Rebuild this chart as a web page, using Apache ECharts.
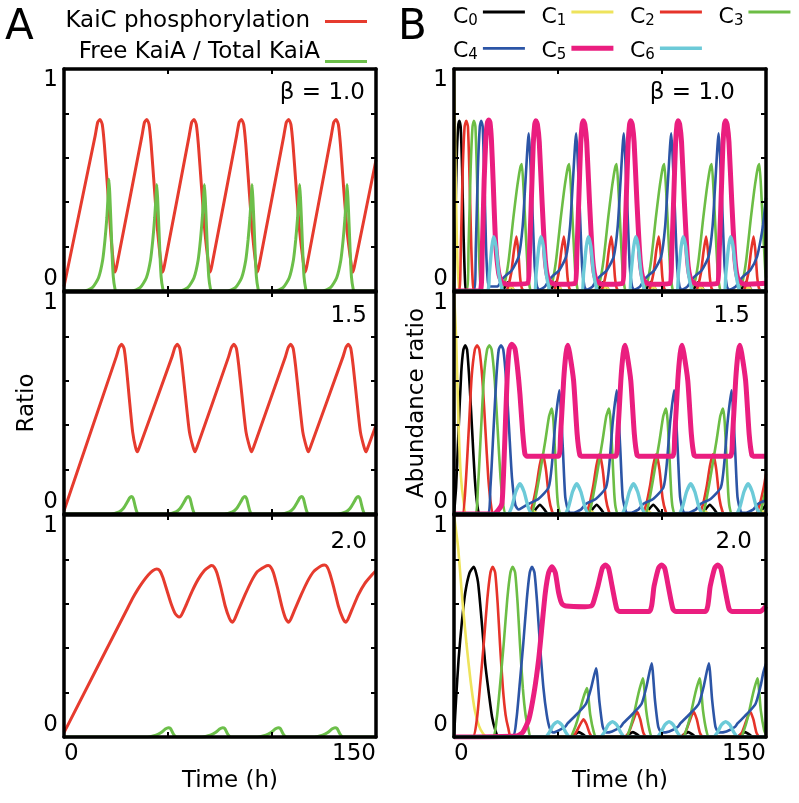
<!DOCTYPE html>
<html><head><meta charset="utf-8">
<script src="https://cdn.jsdelivr.net/npm/echarts@6/dist/echarts.min.js"></script>
<style>html,body{margin:0;padding:0;background:#fff}#c{width:799px;height:803px}</style>
</head><body><div id="c"></div>
<script>
// ---------- labels ----------
const xLabelValues = [0, 150];
const yLabelValues = [0, 1];
const xAxisName = 'Time (h)';
const yAxisNames = ['Ratio', 'Abundance ratio'];
const betaLabels = ['\u03b2 = 1.0', '1.5', '2.0'];
const panelLetters = ['A', 'B'];
const seriesNamesA = ['KaiC phosphorylation', 'Free KaiA / Total KaiA'];
const seriesNamesB = ['C0', 'C1', 'C2', 'C3', 'C4', 'C5', 'C6'];

// ---------- Panel A, beta = 1.0 ----------
const kaicB10 = [[0,0.02],[15,0.70],[16.2,0.76],[17.3,0.773],[18.4,0.75],[19.4,0.66],[20.9,0.47],[22.4,0.27],[23.8,0.12],[24.5,0.085],[25.3,0.11],
[37.5,0.70],[38.7,0.76],[39.8,0.773],[40.9,0.75],[41.9,0.66],[43.4,0.47],[45,0.27],[46.7,0.12],[47.4,0.085],[48.2,0.11],
[60.2,0.70],[61.4,0.76],[62.5,0.773],[63.6,0.75],[64.6,0.66],[66.1,0.47],[67.7,0.27],[69.5,0.12],[70.2,0.085],[71,0.11],
[83,0.70],[84.2,0.76],[85.3,0.773],[86.4,0.75],[87.4,0.66],[88.9,0.47],[90.5,0.27],[92.2,0.12],[92.9,0.085],[93.7,0.11],
[105.7,0.70],[106.9,0.76],[108,0.773],[109.1,0.75],[110.1,0.66],[111.6,0.47],[113.3,0.27],[115.2,0.12],[115.9,0.085],[116.7,0.11],
[128.5,0.70],[129.7,0.76],[130.8,0.773],[131.9,0.75],[132.9,0.66],[134.4,0.47],[136.1,0.27],[138.1,0.12],[138.8,0.085],[139.6,0.11],
[150,0.59]];
const kaiaB10 = [[0,0],[9.6,0],[13.6,0.015],[16.6,0.06],[18.6,0.14],[19.7,0.23],[20.6,0.33],[21.2,0.43],[21.6,0.503],[22,0.44],[22.6,0.3],[23.2,0.15],[23.7,0.064],[24.5,0.01],[25.1,0],
[32.6,0],[36.6,0.015],[39.6,0.06],[41.6,0.14],[42.7,0.23],[43.6,0.33],[44.2,0.42],[44.6,0.48],[45,0.42],[45.6,0.29],[46.2,0.15],[46.7,0.064],[47.5,0.01],[48.1,0],
[55.5,0],[59.5,0.015],[62.5,0.06],[64.5,0.14],[65.6,0.23],[66.5,0.33],[67.1,0.42],[67.5,0.48],[67.9,0.42],[68.5,0.29],[69.1,0.15],[69.6,0.064],[70.4,0.01],[71,0],
[78.4,0],[82.4,0.015],[85.4,0.06],[87.4,0.14],[88.5,0.23],[89.4,0.33],[90,0.42],[90.4,0.48],[90.8,0.42],[91.4,0.29],[92,0.15],[92.5,0.064],[93.3,0.01],[93.9,0],
[101.3,0],[105.3,0.015],[108.3,0.06],[110.3,0.14],[111.4,0.23],[112.3,0.33],[112.9,0.42],[113.3,0.48],[113.7,0.42],[114.3,0.29],[114.9,0.15],[115.4,0.064],[116.2,0.01],[116.8,0],
[124.1,0],[128.1,0.015],[131.1,0.06],[133.1,0.14],[134.2,0.23],[135.1,0.33],[135.7,0.42],[136.1,0.48],[136.5,0.42],[137.1,0.29],[137.7,0.15],[138.2,0.064],[139,0.01],[139.6,0],[150,0]];

// ---------- Panel A, beta = 1.5 ----------
const kaicB15 = [[0,0.015],[25.2,0.71],[26.5,0.75],[27.7,0.765],[28.9,0.745],[29.9,0.67],[31.4,0.52],[33,0.37],[34.4,0.30],[35.3,0.28],[36.2,0.30],
[52,0.71],[53.3,0.75],[54.5,0.765],[55.7,0.745],[56.8,0.67],[58.5,0.52],[60.3,0.37],[62.1,0.30],[63,0.28],[63.9,0.30],
[79.2,0.71],[80.5,0.75],[81.7,0.765],[82.9,0.745],[84,0.67],[85.7,0.52],[87.5,0.37],[89.3,0.30],[90.2,0.28],[91.1,0.30],
[106.5,0.71],[107.8,0.75],[109,0.765],[110.2,0.745],[111.3,0.67],[113,0.52],[114.8,0.37],[116.6,0.30],[117.5,0.28],[118.4,0.30],
[134.2,0.71],[135.5,0.75],[136.7,0.765],[137.9,0.745],[139,0.67],[140.7,0.52],[142.5,0.37],[144.3,0.30],[145.2,0.28],[146.1,0.30],
[150,0.40]];
const kaiaB15 = [[0,0],[22.5,0],[26.5,0.01],[28.5,0.025],[30.5,0.055],[31.5,0.072],[32.5,0.079],[33.3,0.07],[34.1,0.04],[34.9,0.012],[35.7,0],
[49.8,0],[53.8,0.01],[55.8,0.025],[57.8,0.055],[58.8,0.072],[59.8,0.079],[60.6,0.07],[61.4,0.04],[62.2,0.012],[63,0],
[77,0],[81,0.01],[83,0.025],[85,0.055],[86,0.072],[87,0.079],[87.8,0.07],[88.6,0.04],[89.4,0.012],[90.2,0],
[104.3,0],[108.3,0.01],[110.3,0.025],[112.3,0.055],[113.3,0.072],[114.3,0.079],[115.1,0.07],[115.9,0.04],[116.7,0.012],[117.5,0],
[131.5,0],[135.5,0.01],[137.5,0.025],[139.5,0.055],[140.5,0.072],[141.5,0.079],[142.3,0.07],[143.1,0.04],[143.9,0.012],[144.7,0],[150,0]];

// ---------- Panel A, beta = 2.0 ----------
const kaicB20 = [[0,0.02],[30,0.57],[33,0.625],[35.5,0.665],[38,0.70],[40.5,0.73],[42.8,0.75],[44.6,0.757],[46,0.75],[47.5,0.72],[49.5,0.66],[51.5,0.60],[53.5,0.555],[55.4,0.54],
[56.5,0.55],[58.5,0.59],[61.5,0.655],[64.5,0.71],[67.5,0.75],[69.8,0.767],[71,0.772],[72.2,0.765],[73.5,0.74],[75.5,0.67],[77.5,0.59],[79.5,0.535],[80.9,0.517],
[82,0.53],[84,0.575],[87,0.64],[90,0.70],[93,0.745],[96.5,0.767],[98.2,0.772],[99.4,0.765],[100.7,0.74],[102.7,0.67],[104.7,0.59],[106.5,0.535],[107.9,0.517],
[109,0.53],[111,0.575],[114,0.64],[117,0.70],[120,0.745],[123.5,0.77],[125.2,0.775],[126.4,0.768],[127.7,0.74],[129.8,0.67],[131.9,0.59],[134,0.535],[135.4,0.517],
[136.5,0.53],[138.5,0.575],[141.5,0.64],[144.5,0.69],[148.7,0.737],[150,0.75]];
const kaiaB20 = [[0,0],[40.2,0],[44.2,0.008],[46.7,0.02],[48.7,0.036],[50.2,0.042],[51.2,0.038],[52.2,0.02],[53.2,0.005],[54.2,0],
[66.3,0],[70.3,0.008],[72.8,0.02],[74.8,0.036],[76.3,0.042],[77.3,0.038],[78.3,0.02],[79.3,0.005],[80.3,0],
[93,0],[97,0.008],[99.5,0.02],[101.5,0.036],[103,0.042],[104,0.038],[105,0.02],[106,0.005],[107,0],
[120.3,0],[124.3,0.008],[126.8,0.02],[128.8,0.036],[130.3,0.042],[131.3,0.038],[132.3,0.02],[133.3,0.005],[134.3,0],[150,0]];

// ---------- Panel B, beta = 1.0 ----------
const c0B10 = [[0,0],[0.6,0.3],[1.3,0.6],[2,0.74],[2.6,0.767],[3.2,0.74],[3.9,0.55],[4.6,0.25],[5.4,0.03],[6.2,0],
[23,0],[24.6,0.02],[26.1,0.04],[27.6,0.02],[29.2,0],[45.9,0],[47.5,0.02],[49,0.04],[50.5,0.02],[52.1,0],
[68.7,0],[70.3,0.02],[71.8,0.04],[73.3,0.02],[74.9,0],[91.5,0],[93.1,0.02],[94.6,0.04],[96.1,0.02],[97.7,0],
[114.4,0],[116,0.02],[117.5,0.04],[119,0.02],[120.6,0],[137.3,0],[138.9,0.02],[140.4,0.04],[141.9,0.02],[143.5,0],[150,0]];
const c1B10 = [[0,1],[0.5,0.7],[1,0.4],[1.6,0.15],[2.3,0.03],[3,0],
[25.5,0],[27.5,0.02],[29.5,0],[48.3,0],[50.3,0.02],[52.3,0],[71.1,0],[73.1,0.02],[75.1,0],[93.9,0],[95.9,0.02],[97.9,0],
[116.7,0],[118.7,0.02],[120.7,0],[139.5,0],[141.5,0.02],[143.5,0],[150,0]];
const c2B10 = [[0,0],[2.5,0],[3.3,0.2],[4.2,0.55],[5.1,0.74],[5.9,0.767],[6.7,0.74],[7.5,0.5],[8.3,0.2],[9.1,0.03],[10,0],
[25,0],[26,0.02],[27.5,0.08],[28.8,0.18],[30,0.245],[30.9,0.18],[31.8,0.06],[32.7,0.01],[34,0],
[47.8,0],[48.8,0.02],[50.3,0.08],[51.6,0.18],[52.8,0.245],[53.7,0.18],[54.6,0.06],[55.5,0.01],[56.8,0],
[70.6,0],[71.6,0.02],[73.1,0.08],[74.4,0.18],[75.6,0.245],[76.5,0.18],[77.4,0.06],[78.3,0.01],[79.6,0],
[93.4,0],[94.4,0.02],[95.9,0.08],[97.2,0.18],[98.4,0.245],[99.3,0.18],[100.2,0.06],[101.1,0.01],[102.4,0],
[116.2,0],[117.2,0.02],[118.7,0.08],[120,0.18],[121.2,0.245],[122.1,0.18],[123,0.06],[123.9,0.01],[125.2,0],
[139,0],[140,0.02],[141.5,0.08],[142.8,0.18],[144,0.245],[144.9,0.18],[145.8,0.06],[146.7,0.01],[148,0],[150,0]];
const c3B10 = [[0,0],[6,0],[7,0.2],[8,0.55],[8.9,0.74],[9.6,0.767],[10.3,0.74],[11.1,0.5],[11.9,0.2],[12.7,0.03],[13.5,0],
[21.6,0],[23.1,0.015],[24.7,0.05],[26.3,0.14],[28.6,0.335],[30.1,0.45],[31.1,0.515],[32,0.56],[32.6,0.572],[33.5,0.45],[34.5,0.26],[35.4,0.1],[36.1,0.035],[37.1,0],
[44.4,0],[45.9,0.015],[47.5,0.05],[49.1,0.14],[51.4,0.335],[52.9,0.45],[53.9,0.515],[54.8,0.56],[55.4,0.572],[56.3,0.45],[57.3,0.26],[58.2,0.1],[58.9,0.035],[59.9,0],
[67.2,0],[68.7,0.015],[70.3,0.05],[71.9,0.14],[74.2,0.335],[75.7,0.45],[76.7,0.515],[77.6,0.56],[78.2,0.572],[79.1,0.45],[80.1,0.26],[81,0.1],[81.7,0.035],[82.7,0],
[90.1,0],[91.6,0.015],[93.2,0.05],[94.8,0.14],[97.1,0.335],[98.6,0.45],[99.6,0.515],[100.5,0.56],[101.1,0.572],[102,0.45],[103,0.26],[103.9,0.1],[104.6,0.035],[105.6,0],
[112.9,0],[114.4,0.015],[116,0.05],[117.6,0.14],[119.9,0.335],[121.4,0.45],[122.4,0.515],[123.3,0.56],[123.9,0.572],[124.8,0.45],[125.8,0.26],[126.7,0.1],[127.4,0.035],[128.4,0],
[135.8,0],[137.3,0.015],[138.9,0.05],[140.5,0.14],[142.8,0.335],[144.3,0.45],[145.3,0.515],[146.2,0.56],[146.8,0.572],[147.7,0.45],[148.7,0.26],[149.6,0.1],[150,0.06]];
const c4B10 = [[0,0],[9.5,0],[10.5,0.2],[11.5,0.55],[12.4,0.74],[13.1,0.767],[13.8,0.74],[14.6,0.5],[15.4,0.2],[16.2,0.05],[17,0.02],
[20.9,0.02],[22.9,0.05],[24.7,0.068],[27.9,0.095],[31.1,0.155],[33,0.29],[34.3,0.485],[35.9,0.71],[37.5,0.41],[38.8,0.11],[39.9,0.02],[40.9,0.005],
[43.7,0.02],[45.7,0.05],[47.5,0.068],[50.7,0.095],[53.9,0.155],[55.8,0.29],[57.1,0.485],[58.7,0.71],[60.3,0.41],[61.6,0.11],[62.7,0.02],[63.7,0.005],
[66.6,0.02],[68.6,0.05],[70.4,0.068],[73.6,0.095],[76.8,0.155],[78.7,0.29],[80,0.485],[81.6,0.71],[83.2,0.41],[84.5,0.11],[85.6,0.02],[86.6,0.005],
[89.4,0.02],[91.4,0.05],[93.2,0.068],[96.4,0.095],[99.6,0.155],[101.5,0.29],[102.8,0.485],[104.4,0.71],[106,0.41],[107.3,0.11],[108.4,0.02],[109.4,0.005],
[112.2,0.02],[114.2,0.05],[116,0.068],[119.2,0.095],[122.4,0.155],[124.3,0.29],[125.6,0.485],[127.2,0.71],[128.8,0.41],[130.1,0.11],[131.2,0.02],[132.2,0.005],
[135.5,0.02],[137.5,0.05],[139.3,0.068],[142.5,0.095],[145.7,0.155],[147.6,0.24],[148.6,0.3],[150,0.42]];
const c5B10 = [[0,0],[12.5,0],[13.5,0.15],[14.5,0.5],[15.4,0.7],[16.1,0.76],[16.7,0.77],[17.3,0.76],[18,0.68],[18.8,0.5],[20,0.22],[21.5,0.08],[23,0.04],[26,0.03],
[35.4,0.035],[36.2,0.15],[37.2,0.41],[38.1,0.66],[38.8,0.75],[39.4,0.767],[40.1,0.75],[41,0.67],[42.3,0.41],[43.9,0.14],[45.5,0.05],[48.4,0.03],
[58.2,0.035],[59,0.15],[60,0.41],[60.9,0.66],[61.6,0.75],[62.2,0.767],[62.9,0.75],[63.8,0.67],[65.1,0.41],[66.7,0.14],[68.3,0.05],[71.2,0.03],
[81,0.035],[81.8,0.15],[82.8,0.41],[83.7,0.66],[84.4,0.75],[85,0.767],[85.7,0.75],[86.6,0.67],[87.9,0.41],[89.5,0.14],[91.1,0.05],[94,0.03],
[103.8,0.035],[104.6,0.15],[105.6,0.41],[106.5,0.66],[107.2,0.75],[107.8,0.767],[108.5,0.75],[109.4,0.67],[110.7,0.41],[112.3,0.14],[113.9,0.05],[116.8,0.03],
[126.6,0.035],[127.4,0.15],[128.4,0.41],[129.3,0.66],[130,0.75],[130.6,0.767],[131.3,0.75],[132.2,0.67],[133.5,0.41],[135.1,0.14],[136.7,0.05],[139.6,0.03],[150,0.035]];
const c6B10 = [[0,0],[16,0],[17,0.08],[18.2,0.2],[19.1,0.245],[20.2,0.2],[21.5,0.08],[23,0.01],[24,0],
[38.3,0],[39.5,0.08],[40.8,0.2],[41.8,0.245],[43,0.2],[44.3,0.08],[45.8,0.01],[46.8,0],
[61.1,0],[62.3,0.08],[63.6,0.2],[64.6,0.245],[65.8,0.2],[67.1,0.08],[68.6,0.01],[69.6,0],
[83.9,0],[85.1,0.08],[86.4,0.2],[87.4,0.245],[88.6,0.2],[89.9,0.08],[91.4,0.01],[92.4,0],
[106.7,0],[107.9,0.08],[109.2,0.2],[110.2,0.245],[111.4,0.2],[112.7,0.08],[114.2,0.01],[115.2,0],
[129.5,0],[130.7,0.08],[132,0.2],[133,0.245],[134.2,0.2],[135.5,0.08],[137,0.01],[138,0],[150,0]];

// ---------- Panel B, beta = 1.5 ----------
const c0B15 = [[0,0],[1,0.12],[2.2,0.38],[3.5,0.64],[4.5,0.74],[5.4,0.76],[6.3,0.74],[7.4,0.6],[8.7,0.38],[10,0.16],[11.2,0.04],[12.5,0],
[37.3,0],[39.3,0.022],[41.3,0.042],[43.3,0.022],[45.3,0],[64.6,0],[66.6,0.022],[68.6,0.042],[70.6,0.022],[72.6,0],
[91.8,0],[93.8,0.022],[95.8,0.042],[97.8,0.022],[99.8,0],[119,0],[121,0.022],[123,0.042],[125,0.022],[127,0],[146.3,0],[148.3,0.022],[150,0.04]];
const c1B15 = [[0,1],[1,0.8],[2.2,0.4],[3.3,0.17],[4.7,0.05],[6,0],[35.5,0],[38,0.015],[40.5,0],[63,0],[65.5,0.015],[68,0],
[90.5,0],[93,0.015],[95.5,0],[117.7,0],[120.2,0.015],[122.7,0],[145,0],[147.5,0.015],[150,0]];
const c2B15 = [[0,0],[4,0],[5.5,0.12],[7.1,0.38],[8.5,0.62],[10,0.74],[11.1,0.76],[12.2,0.74],[13.7,0.6],[15.1,0.38],[16.5,0.16],[17.8,0.04],[19,0],
[35.7,0],[37.7,0.04],[39.7,0.13],[41.2,0.22],[42.7,0.27],[44.2,0.2],[45.7,0.07],[47.2,0.01],[48.2,0],
[63,0],[65,0.04],[67,0.13],[68.5,0.22],[70,0.27],[71.5,0.2],[73,0.07],[74.5,0.01],[75.5,0],
[90.3,0],[92.3,0.04],[94.3,0.13],[95.8,0.22],[97.3,0.27],[98.8,0.2],[100.3,0.07],[101.8,0.01],[102.8,0],
[117.6,0],[119.6,0.04],[121.6,0.13],[123.1,0.22],[124.6,0.27],[126.1,0.2],[127.6,0.07],[129.1,0.01],[130.1,0],
[144.9,0],[146.9,0.04],[148.9,0.12],[150,0.18]];
const c3B15 = [[0,0],[10,0],[11.5,0.12],[13,0.38],[14.4,0.62],[15.9,0.74],[17,0.76],[18.1,0.74],[19.6,0.6],[21,0.38],[22.4,0.16],[23.7,0.04],[25,0],
[37,0],[38.5,0.04],[40.7,0.15],[43.9,0.33],[45.7,0.44],[47,0.475],[47.8,0.42],[48.7,0.256],[49.5,0.1],[50.2,0.03],[51.5,0],
[64.5,0],[66,0.04],[68.2,0.15],[71.4,0.33],[73.2,0.44],[74.5,0.475],[75.3,0.42],[76.2,0.256],[77,0.1],[77.7,0.03],[79,0],
[91.9,0],[93.4,0.04],[95.6,0.15],[98.8,0.33],[100.6,0.44],[101.9,0.475],[102.7,0.42],[103.6,0.256],[104.4,0.1],[105.1,0.03],[106.4,0],
[119.3,0],[120.8,0.04],[123,0.15],[126.2,0.33],[128,0.44],[129.3,0.475],[130.1,0.42],[131,0.256],[131.8,0.1],[132.5,0.03],[133.8,0],
[146.7,0],[148.2,0.04],[150,0.12]];
const c4B15 = [[0,0],[16,0],[17.5,0.12],[19,0.38],[20.4,0.62],[21.5,0.74],[22.6,0.76],[23.7,0.74],[25.1,0.6],[26.5,0.38],[27.9,0.16],[29.5,0.04],[31,0.02],[33,0.03],
[35.9,0.046],[40.7,0.069],[45.5,0.12],[47.1,0.226],[48.7,0.41],[50.6,0.557],[52.3,0.30],[53.5,0.076],[55.1,0.01],[57,0.005],
[61,0.02],[63.5,0.046],[68.3,0.069],[73.1,0.12],[74.7,0.226],[76.3,0.41],[78.2,0.557],[79.9,0.30],[81.1,0.076],[82.7,0.01],[84.6,0.005],
[88.6,0.02],[91.1,0.046],[95.9,0.069],[100.7,0.12],[102.3,0.226],[103.9,0.41],[105.8,0.557],[107.5,0.30],[108.7,0.076],[110.3,0.01],[112.2,0.005],
[116.2,0.02],[118.7,0.046],[123.5,0.069],[128.3,0.12],[129.9,0.226],[131.5,0.41],[133.4,0.557],[135.1,0.30],[136.3,0.076],[137.9,0.01],[139.8,0.005],
[143.8,0.02],[146.3,0.046],[150,0.062]];
const c5B15 = [[0,0],[19,0],[21.5,0.02],[23.1,0.05],[24.3,0.3],[25.5,0.6],[26.5,0.74],[27.8,0.765],[29.3,0.745],[30.5,0.66],[31.7,0.54],[33,0.37],[34.1,0.27],[35.2,0.26],
[50.2,0.26],[51.2,0.35],[52.7,0.6],[53.8,0.72],[54.7,0.76],[55.6,0.725],[57.5,0.6],[59.2,0.36],[60.5,0.265],[61.7,0.26],
[77.7,0.26],[78.7,0.35],[80.2,0.6],[81.3,0.72],[82.2,0.76],[83.1,0.725],[85,0.6],[86.7,0.36],[88,0.265],[89.2,0.26],
[105.1,0.26],[106.1,0.35],[107.6,0.6],[108.7,0.72],[109.6,0.76],[110.5,0.725],[112.4,0.6],[114.1,0.36],[115.4,0.265],[116.6,0.26],
[132.9,0.26],[133.9,0.35],[135.4,0.6],[136.5,0.72],[137.4,0.76],[138.3,0.725],[140.2,0.6],[141.9,0.36],[143.2,0.265],[144.4,0.26],[150,0.26]];
const c6B15 = [[0,0],[25.7,0],[27.7,0.03],[29.7,0.1],[31.7,0.136],[33.7,0.1],[35.7,0.03],[37.7,0],
[53,0],[55,0.03],[57,0.1],[59,0.136],[61,0.1],[63,0.03],[65,0],
[80.3,0],[82.3,0.03],[84.3,0.1],[86.3,0.136],[88.3,0.1],[90.3,0.03],[92.3,0],
[107.8,0],[109.8,0.03],[111.8,0.1],[113.8,0.136],[115.8,0.1],[117.8,0.03],[119.8,0],
[135.4,0],[137.4,0.03],[139.4,0.1],[141.4,0.136],[143.4,0.1],[145.4,0.03],[147.4,0],[150,0]];

// ---------- Panel B, beta = 2.0 ----------
const c0B20 = [[0,0],[1,0.17],[2.2,0.35],[3.8,0.52],[5.4,0.65],[7.5,0.74],[9.5,0.767],[11.5,0.7],[13.5,0.5],[15,0.33],[16.7,0.2],[18.3,0.09],[19.9,0.03],[21.5,0],
[56,0],[58,0.012],[60,0.022],[62,0.012],[64,0],[82,0],[84,0.012],[86,0.022],[88,0.012],[90,0],
[108.6,0],[110.6,0.012],[112.6,0.022],[114.6,0.012],[116.6,0],[135.9,0],[137.9,0.012],[139.9,0.022],[141.9,0.012],[143.9,0],[150,0]];
const c1B20 = [[0,1],[2,0.85],[4,0.62],[6,0.42],[8,0.25],[10,0.12],[12,0.05],[14,0.015],[16,0],[150,0]];
const c2B20 = [[0,0],[9,0],[11,0.08],[12.7,0.25],[14.3,0.42],[16,0.62],[17.5,0.74],[18.6,0.767],[19.8,0.74],[21,0.6],[22.1,0.42],[23.5,0.22],[24.8,0.1],[26.1,0.04],[27.5,0],
[56.3,0],[58.3,0.015],[60.3,0.05],[62.3,0.08],[63.8,0.055],[65.3,0.015],[66.8,0],
[82,0],[84,0.02],[86,0.07],[88,0.114],[89.5,0.08],[91,0.02],[92.5,0],
[109.2,0],[111.2,0.02],[113.2,0.07],[115.2,0.114],[116.7,0.08],[118.2,0.02],[119.7,0],
[136.4,0],[138.4,0.02],[140.4,0.07],[142.4,0.114],[143.9,0.08],[145.4,0.02],[146.9,0],[150,0]];
const c3B20 = [[0,0],[18.5,0],[20.5,0.08],[22.3,0.25],[23.9,0.42],[25.6,0.62],[27.1,0.74],[28.2,0.767],[29.4,0.74],[30.6,0.6],[31.7,0.42],[33.1,0.22],[34.4,0.1],[35.7,0.04],[37,0],
[55.9,0],[57.4,0.025],[59.3,0.075],[61.8,0.165],[63.9,0.22],[65.5,0.1],[67.1,0.025],[68.4,0],
[82.8,0],[84.3,0.03],[86.2,0.09],[88.7,0.197],[90.8,0.264],[92.4,0.12],[94,0.03],[95.3,0],
[110.1,0],[111.6,0.03],[113.5,0.09],[116,0.197],[118.1,0.264],[119.7,0.12],[121.3,0.03],[122.6,0],
[137.9,0],[139.4,0.03],[141.3,0.09],[143.8,0.197],[145.9,0.264],[147.5,0.12],[149.1,0.03],[150,0.01]];
const c4B20 = [[0,0],[28,0],[30,0.08],[31.7,0.25],[33.3,0.42],[35,0.62],[36.4,0.74],[37.5,0.767],[38.7,0.74],[40,0.6],[41.3,0.42],[43,0.22],[44.6,0.1],[46,0.04],[47.5,0.02],
[49.3,0.025],[53.3,0.045],[54.7,0.062],[59.5,0.107],[63.5,0.15],[65.9,0.22],[68.3,0.31],[69.9,0.16],[71.5,0.046],[73.1,0.02],
[76,0.025],[80,0.045],[81.4,0.062],[86.2,0.107],[90.2,0.15],[92.6,0.23],[95,0.332],[96.6,0.167],[98.2,0.046],[99.8,0.02],
[103.5,0.025],[107.5,0.045],[108.9,0.062],[113.7,0.107],[117.7,0.15],[120.1,0.23],[122.5,0.332],[124.1,0.167],[125.7,0.046],[127.3,0.02],
[131,0.025],[135,0.045],[136.4,0.062],[141.2,0.107],[145,0.15],[147.4,0.23],[148.7,0.29],[150,0.33]];
const c5B20 = [[0,0],[30,0.005],[33,0.02],[36,0.08],[38.5,0.2],[40.7,0.35],[42.5,0.52],[43.9,0.65],[45.5,0.74],[47.1,0.767],[48.7,0.74],[50.3,0.65],[51.9,0.6],[54,0.59],[63,0.587],[66,0.59],
[66.8,0.6],[69.2,0.68],[71.3,0.76],[72.8,0.775],[74.3,0.76],[76,0.68],[78.3,0.575],[79.8,0.565],
[93.8,0.565],[96.2,0.68],[98.3,0.76],[99.8,0.775],[101.3,0.76],[103,0.68],[105.3,0.575],[106.8,0.565],
[120.8,0.565],[123.2,0.68],[125.3,0.76],[126.8,0.775],[128.3,0.76],[130,0.68],[132.3,0.575],[133.8,0.565],[147,0.565],[150,0.59]];
const c6B20 = [[0,0],[43.8,0],[45.8,0.02],[47.8,0.055],[49.8,0.069],[51.8,0.055],[53.8,0.02],[55.8,0],
[70.2,0],[72.2,0.02],[74.2,0.055],[76.2,0.069],[78.2,0.055],[80.2,0.02],[82.2,0],
[97.4,0],[99.4,0.02],[101.4,0.055],[103.4,0.069],[105.4,0.055],[107.4,0.02],[109.4,0],
[124.6,0],[126.6,0.02],[128.6,0.055],[130.6,0.069],[132.6,0.055],[134.6,0.02],[136.6,0],[150,0]];

// ---------- build ----------
const FONT = 'DejaVu Sans';
const colorsA = ['#e63b2e', '#6cbf4a'];
const colorsB = ['#000000', '#eee35c', '#e6332a', '#6cbd45', '#2c55a6', '#ea1e7f', '#6ccad8'];
const widthsB = [2.6, 2.6, 2.6, 2.6, 2.6, 5, 3.4];

const panelA = [[kaicB10, kaiaB10], [kaicB15, kaiaB15], [kaicB20, kaiaB20]];
const panelB = [[c0B10, c1B10, c2B10, c3B10, c4B10, c5B10, c6B10],
                [c0B15, c1B15, c2B15, c3B15, c4B15, c5B15, c6B15],
                [c0B20, c1B20, c2B20, c3B20, c4B20, c5B20, c6B20]];

const gridPos = [[64,69],[64,292],[64,515],[454,69],[454,292],[454,515]];
const grid = gridPos.map(([l,t]) => ({left:l, top:t, width:312, height:222}));
const axisLine = {show:true, onZero:false, lineStyle:{color:'#000', width:3.5}};
const axisTick = {show:true, inside:true, length:5, lineStyle:{color:'#000', width:2}};
const labelStyle = {fontSize:23, color:'#000', fontFamily:FONT};

const xAxis = [], yAxis = [];
for (let i = 0; i < 6; i++) {
  const isBottom = (i === 2 || i === 5);
  xAxis.push({type:'value', gridIndex:i, min:0, max:150, interval:50, position:'bottom', z:5,
    axisLine, axisTick, splitLine:{show:false},
    axisLabel:Object.assign({show:isBottom, margin:6, alignMinLabel:'left', alignMaxLabel:'right',
      formatter: v => xLabelValues.includes(v) ? String(v) : ''}, labelStyle),
    name: isBottom ? xAxisName : '', nameLocation:'middle', nameGap:33,
    nameTextStyle:Object.assign({padding:[0,0,0,20]}, labelStyle)});
}
for (let i = 0; i < 6; i++) {
  xAxis.push({type:'value', gridIndex:i, min:0, max:150, interval:50, position:'top', z:5,
    axisLine, axisTick, splitLine:{show:false}, axisLabel:{show:false}});
}
for (let i = 0; i < 6; i++) {
  yAxis.push({type:'value', gridIndex:i, min:0, max:1, interval:0.2, position:'left', z:5,
    axisLine, axisTick, splitLine:{show:false},
    axisLabel:Object.assign({margin:6, verticalAlignMinLabel:'bottom', verticalAlignMaxLabel:'top',
      formatter: v => yLabelValues.includes(v) ? String(v) : ''}, labelStyle),
    name: i === 1 ? yAxisNames[0] : (i === 4 ? yAxisNames[1] : ''),
    nameLocation:'middle', nameGap:25, nameTextStyle:labelStyle});
}
for (let i = 0; i < 6; i++) {
  yAxis.push({type:'value', gridIndex:i, min:0, max:1, interval:0.2, position:'right', z:5,
    axisLine, axisTick, splitLine:{show:false}, axisLabel:{show:false}});
}

function mkLine(name, data, gi, color, width) {
  return {type:'line', name, data, xAxisIndex:gi, yAxisIndex:gi, symbol:'none', showSymbol:false,
    smooth:0.2, lineStyle:{color, width}, itemStyle:{color}, animation:false, clip:true};
}
const series = [];
panelA.forEach((row, r) => row.forEach((d, k) => series.push(mkLine(seriesNamesA[k], d, r, colorsA[k], 3))));
panelB.forEach((row, r) => row.forEach((d, k) => series.push(mkLine(seriesNamesB[k], d, r + 3, colorsB[k], widthsB[k]))));

// legend icons: thin bars; an invisible anchor point shifts the bar off the text centre
// shift > 0 moves the bar up, shift < 0 moves it down (pixels)
const barIcon = (h, shift) => {
  const bar = 'M0,0L42,0L42,' + h + 'L0,' + h + 'Z';
  if (!shift) return 'path://' + bar;
  const p = shift > 0 ? (h + 2 * shift) : (-2 * -shift);
  return 'path://M0,' + p + 'L0,' + p + bar;
};
const thickB = [2.8, 2.8, 2.8, 2.8, 2.8, 5, 3.4];
const fmtC = n => '{a|C}{s|' + n.slice(1) + '}';
const richC = {
  a:{fontSize:22, lineHeight:24, color:'#000', fontFamily:FONT},
  s:{fontSize:15, lineHeight:13, verticalAlign:'bottom', color:'#000', fontFamily:FONT}
};
const legBase = {padding:0, align:'right', itemWidth:42, itemHeight:24, selectedMode:false, symbolKeepAspect:true};
const legText = {fontSize:23, color:'#000', fontFamily:FONT};
const legend = [
  Object.assign({data:[{name:seriesNamesA[0], icon:barIcon(3, 0)}], right:432, top:10,
    textStyle:Object.assign({padding:[0,10,0,0]}, legText)}, legBase),
  Object.assign({data:[{name:seriesNamesA[1], icon:barIcon(3, -9)}], right:432, top:41,
    textStyle:legText}, legBase),
  Object.assign({data:seriesNamesB.slice(0,4).map((n,k) => ({name:n, icon:barIcon(thickB[k], 5)})),
    left:453, top:6, itemGap:16.6, formatter:fmtC, textStyle:{rich:richC}}, legBase),
  Object.assign({data:seriesNamesB.slice(4).map((n,k) => ({name:n, icon:barIcon(thickB[k+4], 2.7)})),
    left:453, top:40, itemGap:16.6, formatter:fmtC, textStyle:{rich:richC}}, legBase)
];

const tStyle = {fontSize:23, fontWeight:'normal', color:'#000', fontFamily:FONT};
const bigStyle = {fontSize:42, fontWeight:'normal', color:'#000', fontFamily:FONT};
const title = [
  {text:panelLetters[0], left:5, top:7, padding:0, textStyle:bigStyle},
  {text:panelLetters[1], left:398, top:7, padding:0, textStyle:bigStyle},
  {text:betaLabels[0], right:434, top:82, padding:0, textStyle:tStyle},
  {text:betaLabels[1], right:432, top:305, padding:0, textStyle:tStyle},
  {text:betaLabels[2], right:432, top:531, padding:0, textStyle:tStyle},
  {text:betaLabels[0], right:64, top:82, padding:0, textStyle:tStyle},
  {text:betaLabels[1], right:49, top:305, padding:0, textStyle:tStyle},
  {text:betaLabels[2], right:47, top:531, padding:0, textStyle:tStyle}
];

const chart = echarts.init(document.getElementById('c'), null, {renderer:'canvas'});
chart.setOption({backgroundColor:'#fff', animation:false, title, legend, grid, xAxis, yAxis, series});
</script></body></html>
